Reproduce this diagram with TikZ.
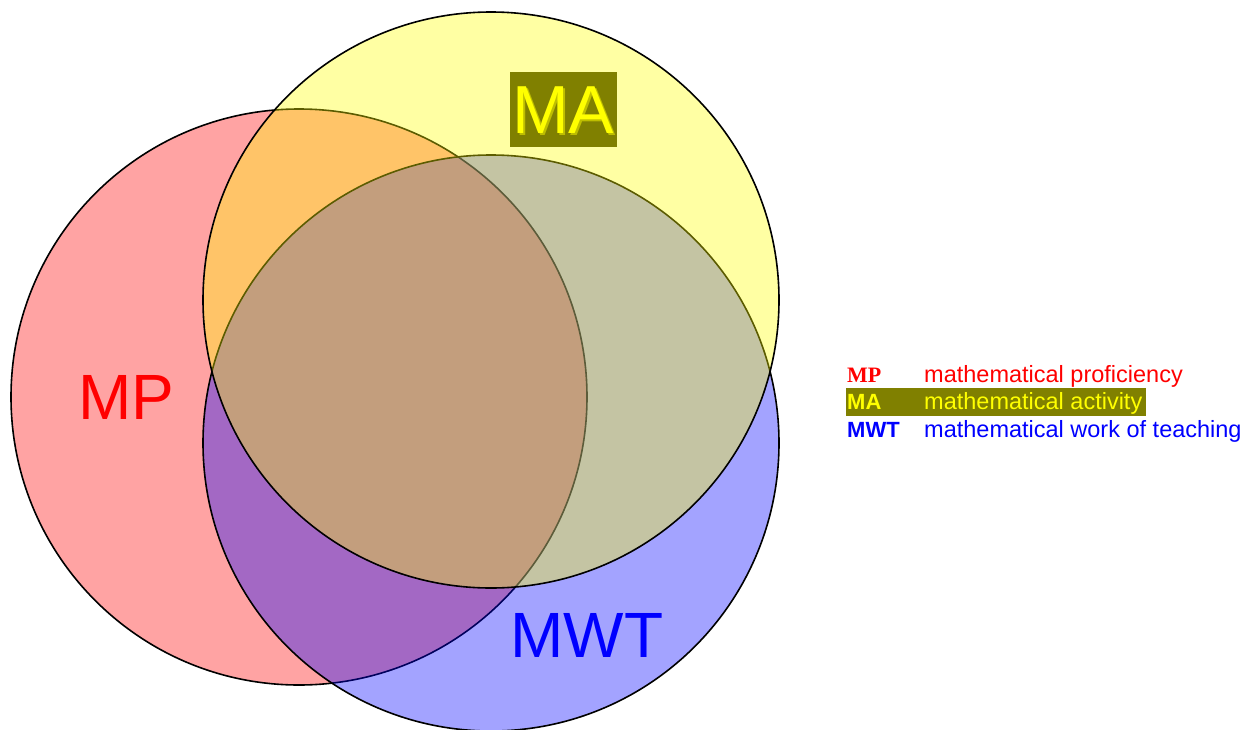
\documentclass[tikz,border=0pt]{standalone}
\usepackage{fontspec}
\setmainfont{Liberation Sans}
\newfontfamily\serifb{Liberation Serif}
\begin{document}
\begin{tikzpicture}[x=1pt,y=-1pt]
\definecolor{mpred}{RGB}{255,0,0}
\definecolor{mayel}{RGB}{255,255,0}
\definecolor{mwtblue}{RGB}{0,0,255}
\definecolor{olivebg}{RGB}{128,128,0}
\definecolor{shadowyel}{RGB}{190,190,0}
\tikzset{
  setcircle/.style={draw=black, line width=1.6pt, fill opacity=0.36},
  bigtxt/.style={font=\fontsize{64}{64}\selectfont, inner sep=0pt},
  legtxt/.style={font=\fontsize{23.5}{24}\selectfont, inner sep=0pt, anchor=base west},
  legkey/.style={font=\fontsize{22}{24}\selectfont\bfseries, inner sep=0pt, anchor=base west}
}
\useasboundingbox (0,0) rectangle (1251,729);
% circles: red, blue, then yellow on top
\draw[setcircle, fill=mpred] (299,397) circle[radius=288pt];
\draw[setcircle, fill=mwtblue] (491,443) circle[radius=288pt];
\draw[setcircle, fill=mayel] (491,300) circle[radius=288pt];
% big labels
\node[bigtxt, text=mpred] (mp) at (126,397) {MP};
\node[bigtxt, text=mwtblue] (mwt) at (587,635) {MWT};
\fill[olivebg] (510,72) rectangle (617,147);
\node[bigtxt, text=shadowyel, font=\fontsize{68}{68}\selectfont] (mashadow) at (565,112) {MA};
\node[bigtxt, text=mayel, font=\fontsize{68}{68}\selectfont] (ma) at (563,110) {MA};
% legend
\fill[olivebg] (846,388) rectangle (1146,416);
\node[legkey, text=mpred, font=\fontsize{22}{24}\selectfont\serifb\bfseries] (k1) at (847,382) {MP};
\node[legtxt, text=mpred] (d1) at (924,382) {mathematical proficiency};
\node[legkey, text=mayel] (k2) at (847,409) {MA};
\node[legtxt, text=mayel] (d2) at (924,409) {mathematical activity};
\node[legkey, text=mwtblue] (k3) at (847,437) {MWT};
\node[legtxt, text=mwtblue] (d3) at (924,437) {mathematical work of teaching};
\end{tikzpicture}
\end{document}
